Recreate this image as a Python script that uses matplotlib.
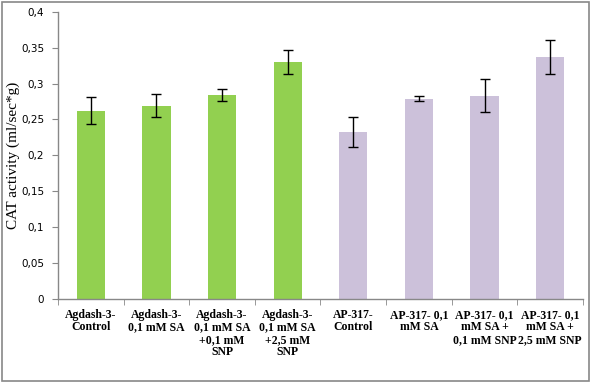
import matplotlib
matplotlib.use("Agg")
import matplotlib.pyplot as plt
from matplotlib.ticker import FixedLocator, FuncFormatter
from matplotlib.patches import Rectangle

categories = [
    "Agdash-3-\nControl",
    "Agdash-3-\n0,1 mM SA",
    "Agdash-3-\n0,1 mM SA\n+0,1 mM\nSNP",
    "Agdash-3-\n0,1 mM SA\n+2,5 mM\nSNP",
    "AP-317-\nControl",
    "AP-317- 0,1\nmM SA",
    "AP-317- 0,1\nmM SA +\n0,1 mM SNP",
    "AP-317- 0,1\nmM SA +\n2,5 mM SNP",
]
values = [0.262, 0.269, 0.284, 0.330, 0.233, 0.279, 0.283, 0.337]
errors = [0.019, 0.016, 0.009, 0.017, 0.021, 0.0035, 0.023, 0.024]
colors = ["#92D050"] * 4 + ["#CCC1DA"] * 4

fig = plt.figure(figsize=(5.91, 3.83), dpi=100)
fig.patch.set_facecolor("white")
fig.patches.append(Rectangle((0.004, 0.006), 0.992, 0.988, transform=fig.transFigure,
                             fill=False, edgecolor="#888888", linewidth=1.2))
ax = fig.add_axes([0.0981, 0.2193, 0.8884, 0.7502])

x = list(range(len(values)))
ax.bar(x, values, width=0.43, color=colors, zorder=2)
ax.errorbar(x, values, yerr=errors, fmt="none", ecolor="black", elinewidth=1.0,
            capsize=3.5, capthick=1.0, zorder=3)

ax.set_xlim(-0.5, len(values) - 0.5)
ax.set_ylim(0, 0.4)
ax.set_yticks([i * 0.05 for i in range(9)])
ax.yaxis.set_major_formatter(FuncFormatter(
    lambda v, p: "0" if abs(v) < 1e-9 else ("%g" % round(v, 2)).replace(".", ",")))
for lbl in ax.get_yticklabels():
    lbl.set_fontfamily("DejaVu Sans")
    lbl.set_fontsize(7.5)

ax.set_xticks(x)
ax.set_xticklabels(categories, fontfamily="Liberation Serif", fontweight="bold",
                   fontsize=8.5, linespacing=1.06)
ax.xaxis.set_minor_locator(FixedLocator([i - 0.5 for i in range(len(values) + 1)]))
ax.tick_params(axis="x", which="major", length=0, pad=7)
ax.tick_params(axis="x", which="minor", length=4, color="#888888", direction="out")
ax.tick_params(axis="y", length=4, color="#888888", direction="out", pad=6)

for s in ["top", "right"]:
    ax.spines[s].set_visible(False)
for s in ["left", "bottom"]:
    ax.spines[s].set_color("#888888")
    ax.spines[s].set_linewidth(1.0)

ax.set_ylabel("CAT activity (ml/sec*g)", fontfamily="Liberation Serif", fontsize=11)
ax.yaxis.set_label_coords(-0.073, 0.5)

fig.savefig("out.png", dpi=100)
